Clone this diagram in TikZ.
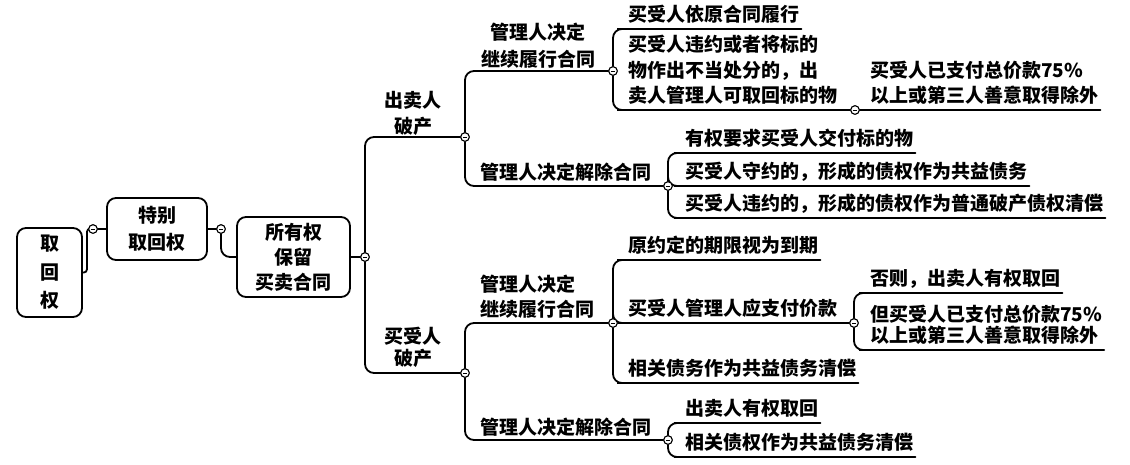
\documentclass[tikz,border=0pt]{standalone}
\usepackage{fontspec}
\setmainfont{Noto Sans CJK SC}
\newcommand\myfs{\fontsize{19}{25}\selectfont}
\tikzset{
  conn/.style={line width=1.8pt, rounded corners=9pt, line cap=round},
  topbox/.style={draw, line width=1.8pt, rounded corners=9pt, align=center, inner sep=0pt},
  jn/.style={circle, draw, line width=1pt, fill=white, minimum size=8.5pt, inner sep=0pt,
    path picture={\draw[line width=0.9pt] ([xshift=-2.2pt]path picture bounding box.center) -- ([xshift=2.2pt]path picture bounding box.center);}},
  leaf/.style={anchor=south west, inner xsep=2pt, inner ysep=5.3pt, text depth=2pt, align=left},
  lbl/.style={inner xsep=0pt, inner ysep=3pt, text depth=2pt},
}
\begin{document}
\begin{tikzpicture}[x=1pt,y=-1pt,font=\myfs\bfseries]
\useasboundingbox (0,0) rectangle (1130,464);
% main boxes
\node[topbox, minimum width=65pt, minimum height=89pt, font=\fontsize{19}{28.5}\selectfont\bfseries] (b1) at (49.5,272.5) {取\\回\\权};
\node[topbox, minimum width=100pt, minimum height=62pt, font=\fontsize{19}{27}\selectfont\bfseries] (b2) at (157,229) {特别\\取回权};
\node[topbox, minimum width=113pt, minimum height=80pt] (b3) at (293.5,257) {所有权\\保留\\买卖合同};
% junctions
\node[jn] (c1) at (93,229) {};
\node[jn] (c2) at (221,229) {};
\node[jn] (c3) at (365,257) {};
\node[jn] (cS) at (465,137) {};
\node[jn] (cB) at (465,373) {};
\node[jn] (cS1) at (613,71) {};
\node[jn] (cS2) at (668,186) {};
\node[jn] (cL2) at (855,110) {};
\node[jn] (cB1) at (613,323) {};
\node[jn] (cB2) at (668,440) {};
\node[jn] (cN2) at (854,323) {};
% branch labels
\node[lbl, anchor=south, align=center, inner ysep=1pt, font=\fontsize{19}{26}\selectfont\bfseries] (lS) at (413,137) {出卖人\\破产};
\node[lbl, anchor=south, align=center, inner ysep=5pt, font=\fontsize{19}{22}\selectfont\bfseries] (lB) at (413,373) {买受人\\破产};
\node[lbl, anchor=south, align=center, inner ysep=2pt, font=\fontsize{19}{27}\selectfont\bfseries] (lS1) at (538,71) {管理人决定\\继续履行合同};
\node[lbl, anchor=south west] (lS2) at (480,185) {管理人决定解除合同};
\node[lbl, anchor=south west, align=left, inner ysep=4pt] (lB1) at (480,323) {管理人决定\\继续履行合同};
\node[lbl, anchor=south west] (lB2) at (480,440) {管理人决定解除合同};
% leaves
\node[leaf] (L1) at (626,29) {买受人依原合同履行};
\node[leaf, font=\fontsize{19}{25.5}\selectfont\bfseries] (L2) at (626,110) {买受人违约或者将标的\\物作出不当处分的，出\\卖人管理人可取回标的物};
\node[leaf] (L2a) at (868,110) {买受人已支付总价款75\%\\以上或第三人善意取得除外};
\node[leaf] (M1) at (683,153) {有权要求买受人交付标的物};
\node[leaf] (M2) at (683,186) {买受人守约的，形成的债权作为共益债务};
\node[leaf] (M3) at (683,218) {买受人违约的，形成的债权作为普通破产债权清偿};
\node[leaf] (N1) at (626,260) {原约定的期限视为到期};
\node[leaf] (N2) at (626,323) {买受人管理人应支付价款};
\node[leaf] (N3) at (626,383) {相关债务作为共益债务清偿};
\node[leaf] (N2a) at (868,293) {否则，出卖人有权取回};
\node[leaf, font=\fontsize{19}{21}\selectfont\bfseries] (N2b) at (868,350) {但买受人已支付总价款75\%\\以上或第三人善意取得除外};
\node[leaf] (P1) at (683,423) {出卖人有权取回};
\node[leaf] (P2) at (683,457) {相关债权作为共益债务清偿};
% connectors
\draw[conn, rounded corners=3pt] (b1.east) -- ([xshift=4pt]b1.east) |- (c1);
\draw[conn] (c1) -- (b2.west);
\draw[conn] (b2.east) -- (c2);
\draw[conn] (c2) |- (b3.west);
\draw[conn] (b3.east) -- (c3);
\draw[conn] (c3) |- (cS);
\draw[conn] (c3) |- (cB);
\draw[conn] (cS) |- (cS1);
\draw[conn] (cS) |- (cS2);
\draw[conn] (cB) |- (cB1);
\draw[conn] (cB) |- (cB2);
\draw[conn] (cS1) |- (L1.south west) -- (L1.south east);
\draw[conn] (cS1) |- (L2.south west) -- (cL2);
\draw[conn] (cL2) -- (L2a.south west) -- (L2a.south east);
\draw[conn] (cS2) |- (M1.south west) -- (M1.south east);
\draw[conn] (cS2) |- (M2.south west) -- (M2.south east);
\draw[conn] (cS2) |- (M3.south west) -- (M3.south east);
\draw[conn] (cB1) |- (N1.south west) -- (N1.south east);
\draw[conn] (cB1) |- (N2.south west) -- (cN2);
\draw[conn] (cB1) |- (N3.south west) -- (N3.south east);
\draw[conn] (cN2) |- (N2a.south west) -- (N2a.south east);
\draw[conn] (cN2) |- (N2b.south west) -- (N2b.south east);
\draw[conn] (cB2) |- (P1.south west) -- (P1.south east);
\draw[conn] (cB2) |- (P2.south west) -- (P2.south east);
% redraw junctions on top
\foreach \n in {c1,c2,c3,cS,cB,cS1,cS2,cL2,cB1,cB2,cN2}{\node[jn] at (\n) {};}
\end{tikzpicture}
\end{document}
